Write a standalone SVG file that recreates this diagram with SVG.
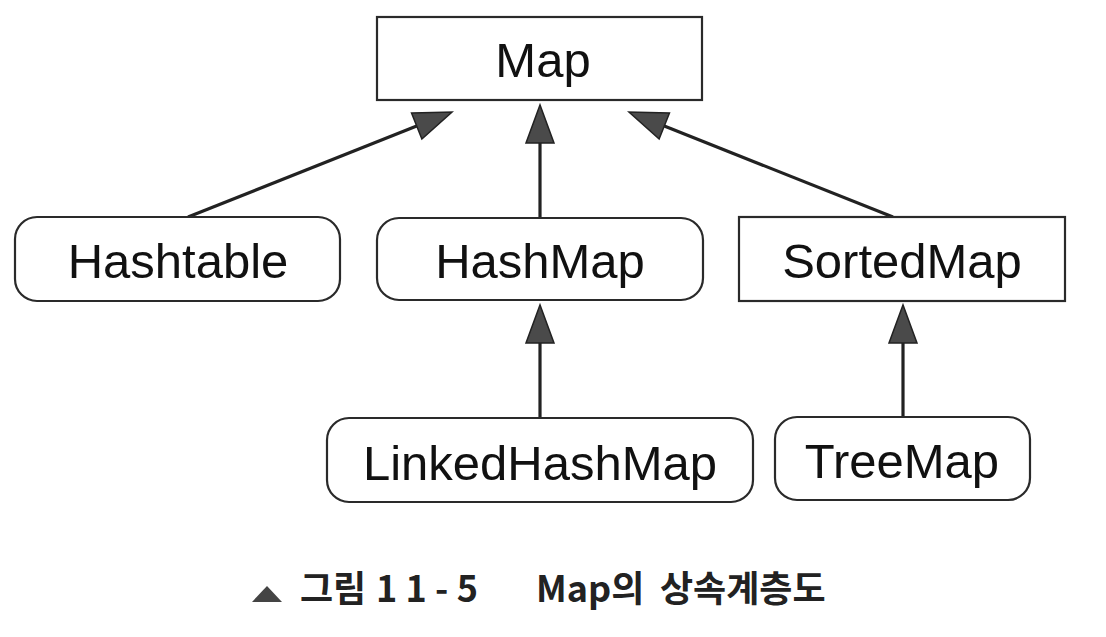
<svg xmlns="http://www.w3.org/2000/svg" width="1106" height="637" viewBox="0 0 1106 637">
<style>
.box{fill:#fff;stroke:#2a2a2a;stroke-width:2.2}
.lbl{font-family:"Liberation Sans",Arial,sans-serif;font-size:49px;fill:#111;text-anchor:middle}
.edge{stroke:#222;stroke-width:3.2;fill:none}
.cap{font-family:"Noto Sans CJK KR","Liberation Sans",sans-serif;font-size:36px;font-weight:bold;fill:#222}
</style>
<defs>
<marker id="tri" viewBox="0 -14 38 28" refX="0" refY="0" markerWidth="38" markerHeight="28" markerUnits="userSpaceOnUse" orient="auto" overflow="visible">
<path d="M0,-14 L38,0 L0,14 Z" fill="#4a4a4a" stroke="#222" stroke-width="1.5" stroke-linejoin="miter"/>
</marker>
</defs>
<rect width="1106" height="637" fill="#fff"/>
<g id="connectors">
<line class="edge" x1="188" y1="217" x2="416.7" y2="126" marker-end="url(#tri)"/>
<line class="edge" x1="540" y1="218" x2="540" y2="143" marker-end="url(#tri)"/>
<line class="edge" x1="893" y1="217" x2="664.3" y2="126" marker-end="url(#tri)"/>
<line class="edge" x1="540" y1="418" x2="540" y2="343" marker-end="url(#tri)"/>
<line class="edge" x1="903" y1="417" x2="903" y2="343" marker-end="url(#tri)"/>
</g>
<g id="map">
<rect class="box" x="377" y="17" width="325" height="83"/>
<text class="lbl" x="543" y="77">Map</text>
</g>
<g id="hashtable">
<rect class="box" x="15" y="217" width="325" height="84" rx="22"/>
<text class="lbl" x="178" y="278">Hashtable</text>
</g>
<g id="hashmap">
<rect class="box" x="377" y="218" width="326" height="82" rx="22"/>
<text class="lbl" x="540" y="278">HashMap</text>
</g>
<g id="sortedmap">
<rect class="box" x="739" y="217" width="326" height="84"/>
<text class="lbl" x="902" y="278">SortedMap</text>
</g>
<g id="linkedhashmap">
<rect class="box" x="327" y="418" width="426" height="84" rx="22"/>
<text class="lbl" x="540" y="480">LinkedHashMap</text>
</g>
<g id="treemap">
<rect class="box" x="775" y="417" width="255" height="83" rx="22"/>
<text class="lbl" x="902" y="478">TreeMap</text>
</g>
<g id="caption">
<polygon points="252,602 267,586 282,602" fill="#444"/>
<text class="cap" x="300" y="602">그림<tspan x="376" textLength="102">11-5</tspan></text>
<text class="cap" x="536" y="602">Map의</text>
<text class="cap" x="660" y="602">상속계층도</text>
</g>
</svg>
